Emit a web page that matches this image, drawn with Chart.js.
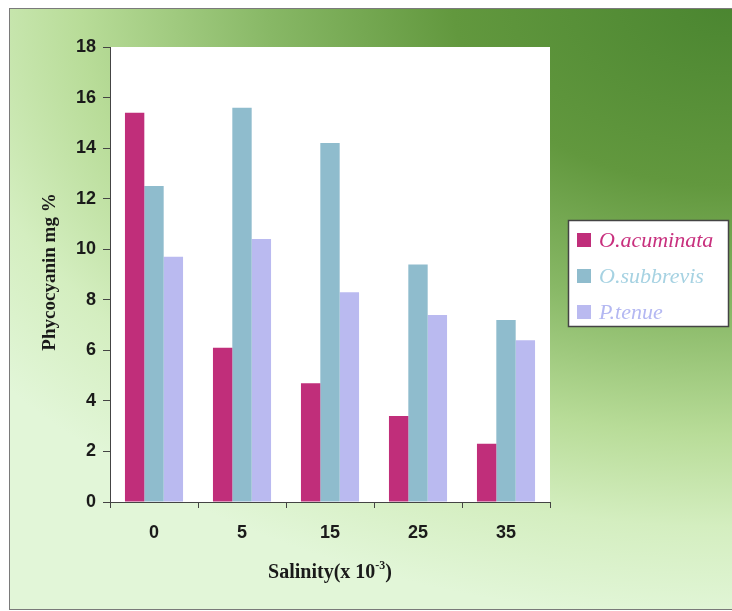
<!DOCTYPE html>
<html>
<head>
<meta charset="utf-8">
<script src="https://cdn.jsdelivr.net/npm/chart.js@4/dist/chart.umd.min.js"></script>
<style>
  body { margin: 0; background: #fff; }
  canvas { display: block; }
</style>
</head>
<body>
<canvas id="phyco" width="732" height="611"></canvas>
<script>
// salinity levels (x 10^-3)
const salinity = ['0', '5', '15', '25', '35'];

// phycocyanin mg %
const oAcuminata = [15.4, 6.1, 4.7, 3.4, 2.3];
const oSubbrevis = [12.5, 15.6, 14.2, 9.4, 7.2];
const pTenue = [9.7, 10.4, 8.3, 7.4, 6.4];

const seriesNames = ['O.acuminata', 'O.subbrevis', 'P.tenue'];
const barColors = ['#c02e7a', '#8fbccd', '#babaf0'];
const legendText = ['#c8307e', '#a6d2e2', '#b4b8f2'];

const frame = {
  id: 'frame',
  beforeDraw(chart) {
    const ctx = chart.ctx, a = chart.chartArea;
    ctx.save();
    ctx.fillStyle = '#fff';
    ctx.fillRect(0, 0, chart.width, chart.height);
    // green backdrop, dark in the top right, stretched along the top
    ctx.save();
    ctx.beginPath();
    ctx.rect(9, 8, 723, 602);
    ctx.clip();
    ctx.translate(732, 0);
    ctx.scale(1.5, 1);
    const g = ctx.createRadialGradient(0, 0, 0, 0, 0, 620);
    g.addColorStop(0, '#4a8530');
    g.addColorStop(0.3, '#62983e');
    g.addColorStop(0.5, '#88b866');
    g.addColorStop(0.7, '#b8dc98');
    g.addColorStop(0.85, '#d4eec0');
    g.addColorStop(1, '#e2f6d8');
    ctx.fillStyle = g;
    ctx.fillRect(-600, 0, 600, 620);
    ctx.restore();
    ctx.strokeStyle = '#7a7a7a';
    ctx.lineWidth = 1;
    ctx.strokeRect(9.5, 8.5, 724, 601);
    ctx.fillStyle = '#fff';
    ctx.fillRect(a.left, a.top, a.right - a.left, a.bottom - a.top);
    ctx.restore();
  },
  afterDraw(chart) {
    const ctx = chart.ctx, a = chart.chartArea;
    ctx.save();
    ctx.fillStyle = '#1a1a1a';
    ctx.textBaseline = 'middle';

    // y title
    ctx.save();
    ctx.translate(50, 272);
    ctx.rotate(-Math.PI / 2);
    ctx.textAlign = 'center';
    ctx.font = 'bold 19px "Liberation Serif"';
    ctx.fillText('Phycocyanin mg %', 0, 0);
    ctx.restore();

    // x title with superscript
    const mainFont = 'bold 20px "Liberation Serif"';
    const supFont = 'bold 12px "Liberation Serif"';
    const t1 = 'Salinity(x 10', t3 = ')';
    ctx.font = mainFont;
    const w1 = ctx.measureText(t1).width;
    const w3 = ctx.measureText(t3).width;
    ctx.font = supFont;
    const w2 = ctx.measureText('-3').width;
    let x = (a.left + a.right) / 2 - (w1 + w2 + w3) / 2;
    const y = 573;
    ctx.textAlign = 'left';
    ctx.font = mainFont;
    ctx.fillText(t1, x, y);
    x += w1;
    ctx.font = supFont;
    ctx.fillText('-3', x, y - 7);
    x += w2;
    ctx.font = mainFont;
    ctx.fillText(t3, x, y);

    // legend box
    ctx.fillStyle = '#fff';
    ctx.fillRect(568, 220, 160, 107);
    ctx.strokeStyle = '#444';
    ctx.lineWidth = 1.5;
    ctx.strokeRect(568.5, 220.5, 160, 106);
    ctx.font = 'italic 22px "Liberation Serif"';
    chart.data.datasets.forEach(function(ds, i) {
      const cy = 240 + i * 36;
      ctx.fillStyle = ds.backgroundColor;
      ctx.fillRect(577, cy - 7, 14, 14);
      ctx.fillStyle = legendText[i];
      ctx.fillText(ds.label, 599, cy + 1);
    });
    ctx.restore();
  }
};

const tickFont = { family: '"Liberation Sans", Arial', size: 18, weight: 'bold' };

new Chart(document.getElementById('phyco'), {
  type: 'bar',
  data: {
    labels: salinity,
    datasets: [oAcuminata, oSubbrevis, pTenue].map(function(vals, i) {
      return {
        label: seriesNames[i],
        data: vals,
        backgroundColor: barColors[i],
        categoryPercentage: 0.66,
        barPercentage: 1.0
      };
    })
  },
  options: {
    responsive: false,
    animation: false,
    layout: { padding: { top: 47, right: 182, bottom: 0, left: 0 } },
    plugins: {
      legend: { display: false },
      tooltip: { enabled: false }
    },
    scales: {
      x: {
        afterFit: function(scale) { scale.height = 109; },
        grid: { offset: true, drawOnChartArea: false, tickLength: 6, color: '#444' },
        border: { color: '#444', width: 1 },
        ticks: { font: tickFont, color: '#1a1a1a', padding: 14 }
      },
      y: {
        min: 0,
        max: 18,
        afterFit: function(scale) { scale.width = 110; },
        grid: { drawOnChartArea: false, tickLength: 7, color: '#444' },
        border: { color: '#444', width: 1 },
        ticks: { stepSize: 2, font: tickFont, color: '#1a1a1a', padding: 7 }
      }
    }
  },
  plugins: [frame]
});
</script>
</body>
</html>
